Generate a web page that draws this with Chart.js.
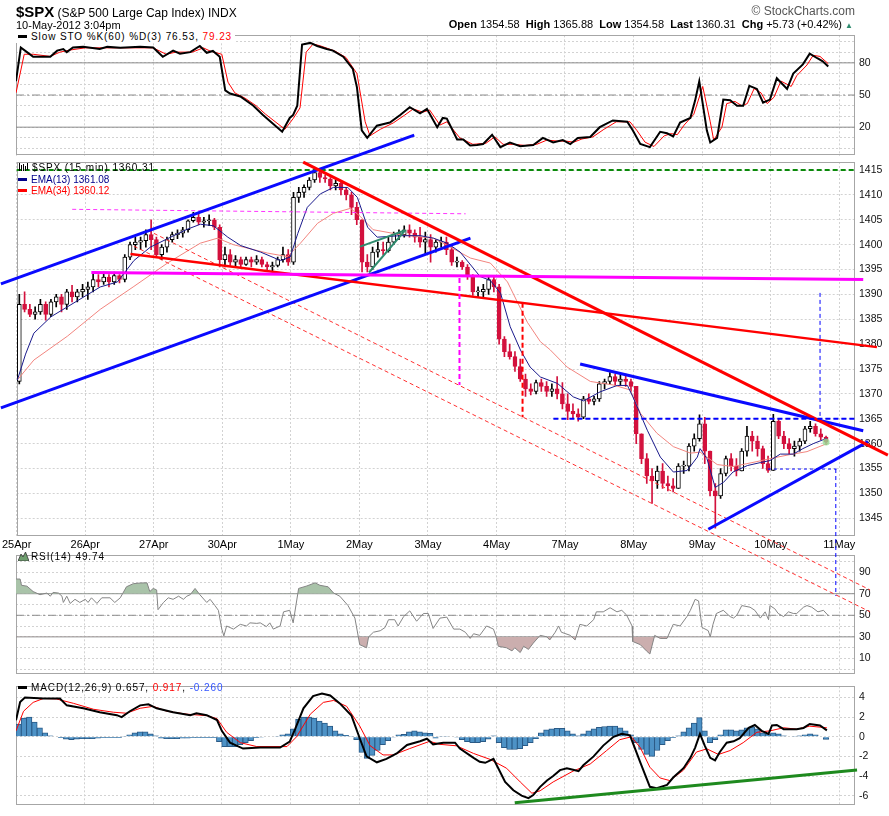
<!DOCTYPE html>
<html>
<head>
<meta charset="utf-8">
<title>$SPX 15 min</title>
<script src="https://cdn.jsdelivr.net/npm/chart.js@4.4.1/dist/chart.umd.min.js"></script>
<style>
  html, body { margin: 0; padding: 0; overflow: hidden; background: #fff; }
  body { width: 889px; height: 816px; position: relative; font-family: "Liberation Sans", Arial, sans-serif; }
  canvas { position: absolute; left: 0; }
  .txt { position: absolute; white-space: nowrap; font-size: 11px; line-height: 13px; color: #000; z-index: 5; }
  .leg { letter-spacing: 0.9px; font-size: 10px; line-height: 12px; }
  .dash { display: inline-block; width: 9px; height: 3px; vertical-align: middle; margin: 0 4px 2px 2px; }
</style>
</head>
<body>
<canvas id="sto" width="889" height="141" style="top:25px"></canvas>
<canvas id="rsi" width="889" height="140" style="top:545px"></canvas>
<canvas id="macd" width="889" height="140" style="top:676px"></canvas>
<canvas id="price" width="889" height="690" style="top:0;z-index:2"></canvas>

<div class="txt" style="left:16px;top:3px;line-height:18px"><b style="font-size:15px">$SPX</b> <span style="font-size:12px">(S&amp;P 500 Large Cap Index) INDX</span></div>
<div class="txt" style="left:16px;top:19px">10-May-2012 3:04pm</div>
<div class="txt" style="right:34px;top:5px;color:#555;font-size:12px">&copy; StockCharts.com</div>
<div class="txt" style="right:36px;top:18px"><b>Open</b> 1354.58&nbsp; <b>High</b> 1365.88&nbsp; <b>Low</b> 1354.58&nbsp; <b>Last</b> 1360.31&nbsp; <b>Chg</b> +5.73 (+0.42%) <span style="color:#2e8b6e;font-size:8px">&#9650;</span></div>

<div class="txt leg" style="left:16px;top:31px;background:#fff;padding-right:3px"><span class="dash" style="background:#000"></span>Slow STO %K(60) %D(3) 76.53, <span style="color:#f00">79.23</span></div>

<div class="txt leg" style="left:16px;top:162px"><svg width="11" height="10" style="vertical-align:middle;margin:0 3px 2px 2px"><path d="M1.5 1v8M3.5 3v6M5.5 2v7M7.5 4v5M9.5 1v7" stroke="#000" stroke-width="1"/></svg>$SPX (15 min) 1360.31</div>
<div class="txt" style="left:16px;top:174px;font-size:10px;line-height:12px;color:#00008b"><span class="dash" style="background:#00008b"></span>EMA(13) 1361.08</div>
<div class="txt" style="left:16px;top:185px;font-size:10px;line-height:12px;color:#f00"><span class="dash" style="background:#f00"></span>EMA(34) 1360.12</div>

<div class="txt leg" style="left:16px;top:551px"><svg width="11" height="10" style="vertical-align:middle;margin:0 2px 2px 2px"><path d="M0 10 L3 3 L5 6 L7.5 1 L11 10 Z" fill="#6f9f6f" stroke="#333" stroke-width="0.8"/></svg>RSI(14) 49.74</div>

<div class="txt leg" style="left:16px;top:682px"><span class="dash" style="background:#000"></span>MACD(12,26,9) 0.657, <span style="color:#f00">0.917</span>, <span style="color:#3355ff">-0.260</span></div>

<script>
// ---- x axis: trading days, 13 half-hour bars per day ----
const dayLabels = ['25Apr', '26Apr', '27Apr', '30Apr', '1May', '2May', '3May', '4May', '7May', '8May', '9May', '10May', '11May'];
const barsPerDay = 13;
const xMax = 12.23;

// ---- price candles (30 min) ----
const opens = [
  1372.5, 1388, 1387, 1386, 1386.5, 1388, 1386, 1388.5, 1389.5, 1388, 1390.5, 1389.5, 1390.5,
  1391, 1391.5, 1393, 1392.5, 1393.5, 1392.5, 1393.8, 1393, 1397.5, 1400, 1400.5, 1400.8, 1402,
  1401, 1398, 1399.5, 1401, 1402, 1402.3, 1403, 1404.8, 1405.5, 1404.5, 1404.8, 1405, 1403.5,
  1397, 1398, 1396.5, 1397, 1396, 1397, 1396.5, 1397, 1396, 1395.5, 1395.8, 1397, 1398,
  1396.5, 1409.5, 1410.5, 1411.5, 1413, 1414.5, 1413.5, 1413.2, 1411.8, 1412.3, 1411, 1410, 1407.5,
  1405, 1396.5, 1395.5, 1398.5, 1399, 1398.8, 1400.5, 1402, 1402, 1403, 1402.3, 1401.5, 1400.5,
  1401, 1399.5, 1400.5, 1400.5, 1399, 1396.5, 1396.5, 1395.5, 1393.8, 1390.5, 1390.5, 1391, 1393,
  1391.5, 1381, 1378.5, 1377.5, 1375.5, 1373, 1371, 1370.5, 1372.3, 1371.5, 1370.5, 1371, 1370,
  1368, 1366.5, 1366, 1365.3, 1369, 1368.5, 1369, 1372, 1372.5, 1373.5, 1372.5, 1373, 1372.5,
  1371.5, 1362, 1357, 1353.5, 1352.5, 1354.5, 1352, 1351.5, 1351, 1355.5, 1355.5, 1359.5, 1361,
  1364, 1358.5, 1350.5, 1349.5, 1354, 1357, 1355.5, 1354.5, 1358.5, 1361.5, 1360.5, 1359, 1356,
  1354.6, 1364.5, 1361.5, 1360, 1359, 1359.5, 1360.5, 1363, 1363.5, 1362, 1361.3
];
const highs = [
  1390, 1390.5, 1388, 1387.5, 1389, 1388.5, 1389, 1390, 1390, 1391, 1391.8, 1391, 1392,
  1392.5, 1394.5, 1394, 1394.5, 1394, 1394.5, 1394, 1398, 1400.5, 1401.5, 1401.5, 1403, 1405,
  1401.5, 1400, 1401.5, 1402.5, 1403, 1403.5, 1405, 1406.5, 1406.3, 1405.5, 1406, 1405.3, 1404,
  1399.5, 1399, 1397.8, 1397.5, 1397.5, 1397.5, 1397.8, 1397.5, 1396.5, 1396.5, 1397.5, 1399.5, 1399,
  1410.5, 1411.5, 1412, 1413.5, 1415.5, 1415.3, 1414, 1413.5, 1413, 1412.5, 1411.5, 1410.5, 1408.5,
  1405, 1398, 1399.5, 1400.5, 1400.5, 1401.5, 1402.5, 1403, 1403.8, 1404, 1403, 1403.5, 1402.5,
  1402, 1401, 1401.5, 1401.5, 1399.5, 1397.5, 1396.8, 1396, 1394, 1391.5, 1392, 1393.5, 1393.5,
  1392, 1381.5, 1380, 1378.5, 1377, 1374, 1372, 1372.8, 1373, 1372.5, 1372, 1373.5, 1372.3,
  1370, 1368, 1367, 1369.5, 1370, 1369.5, 1372.5, 1373, 1374.3, 1374, 1373.8, 1374, 1373,
  1371.5, 1362, 1358, 1355, 1355.5, 1356, 1353.5, 1353, 1356, 1356.5, 1360, 1362, 1365.8,
  1365.3, 1358.5, 1352, 1355, 1357.5, 1358, 1357, 1359, 1363.5, 1362.5, 1361.5, 1359.5, 1357.5,
  1365.9, 1365, 1362.5, 1361, 1360.5, 1361, 1363.5, 1364.5, 1364, 1363, 1361.5
];
const lows = [
  1372, 1386.5, 1385.5, 1385, 1386, 1384.8, 1385.5, 1387.5, 1386.5, 1387, 1388.5, 1388.5, 1389.5,
  1389, 1390.5, 1391.5, 1392, 1391.5, 1392, 1392.3, 1392.5, 1397, 1399, 1399, 1399.5, 1399,
  1397.5, 1397, 1398.5, 1400.5, 1401.2, 1401.5, 1402.5, 1404.5, 1404, 1403.5, 1403.8, 1403, 1395.5,
  1395.5, 1395.8, 1395.5, 1395.5, 1395.8, 1395.5, 1396, 1395.5, 1394.8, 1394.5, 1395.5, 1396.5, 1395.8,
  1396, 1408.5, 1409.5, 1411, 1412.5, 1412.5, 1412.5, 1411, 1411, 1410, 1409, 1406, 1404,
  1394.5, 1394.5, 1395, 1397.5, 1398, 1398.5, 1400, 1401, 1401.5, 1401.5, 1400.5, 1399.5, 1398,
  1396.5, 1398.5, 1399.5, 1398, 1395.8, 1395.5, 1395, 1393, 1389.8, 1389.5, 1389.5, 1390, 1390.5,
  1380, 1377.5, 1377, 1374.5, 1372.5, 1369.5, 1369.8, 1370, 1370.5, 1369.5, 1369.5, 1369, 1367,
  1364.8, 1365, 1364.5, 1365, 1368, 1367.8, 1368.5, 1371, 1372, 1371.8, 1371.8, 1371.5, 1370.5,
  1360, 1356, 1352, 1348, 1351, 1351, 1350.5, 1350.3, 1351, 1354, 1354.5, 1358.5, 1360.5,
  1356, 1349.5, 1343, 1349, 1353.5, 1354.5, 1353.5, 1354.5, 1357.5, 1358.5, 1357.5, 1355, 1354.2,
  1354.6, 1361, 1359, 1358, 1357.5, 1358.5, 1360, 1362.3, 1361.5, 1360.8, 1359.8
];
const closes = [
  1388, 1387, 1386, 1386.5, 1388, 1386, 1388.5, 1389.5, 1388, 1390.5, 1389.5, 1390.5, 1391,
  1391.5, 1393, 1392.5, 1393.5, 1392.5, 1393.8, 1393, 1397.5, 1400, 1400.5, 1400.8, 1402, 1401,
  1398, 1399.5, 1401, 1402, 1402.3, 1403, 1404.8, 1405.5, 1404.5, 1404.8, 1405, 1403.5, 1397,
  1398, 1396.5, 1397, 1396, 1397, 1396.5, 1397, 1396, 1395.5, 1395.8, 1397, 1398, 1396.5,
  1409.5, 1410.5, 1411.5, 1413, 1414.5, 1413.5, 1413.2, 1411.8, 1412.3, 1411, 1410, 1407.5, 1405,
  1396.5, 1395.5, 1398.5, 1399, 1398.8, 1400.5, 1402, 1402, 1403, 1402.3, 1401.5, 1400.5, 1401,
  1399.5, 1400.5, 1400.5, 1399, 1396.5, 1396.5, 1395.5, 1393.8, 1390.5, 1390.5, 1391, 1393, 1391.5,
  1381, 1378.5, 1377.5, 1375.5, 1373, 1371, 1370.5, 1372.3, 1371.5, 1370.5, 1371, 1370, 1368,
  1366.5, 1366, 1365.3, 1369, 1368.5, 1369, 1372, 1372.5, 1373.5, 1372.5, 1373, 1372.5, 1371.5,
  1362, 1357, 1353.5, 1352.5, 1354.5, 1352, 1351.5, 1351, 1355.5, 1355.5, 1359.5, 1361, 1364,
  1358.5, 1350.5, 1349.5, 1354, 1357, 1355.5, 1354.5, 1358.5, 1361.5, 1360.5, 1359, 1356, 1354.6,
  1364.5, 1361.5, 1360, 1359, 1359.5, 1360.5, 1363, 1363.5, 1362, 1361.3, 1360.31
];
const priceTicks = [1345, 1350, 1355, 1360, 1365, 1370, 1375, 1380, 1385, 1390, 1395, 1400, 1405, 1410, 1415];

// ---- moving averages (x in trading days) ----
const ema13X = [0.01, 0.13, 0.25, 0.50, 0.74, 0.98, 1.22, 1.47, 1.71, 1.95, 2.29, 2.49, 2.68, 2.87, 3.08, 3.27, 3.56, 3.85, 3.99, 4.10, 4.24, 4.43, 4.62, 4.83, 4.97, 5.12, 5.26, 5.60, 5.89, 6.08, 6.28, 6.47, 6.76, 6.91, 7.06, 7.20, 7.35, 7.49, 7.64, 7.89, 8.12, 8.27, 8.51, 8.76, 8.91, 8.99, 9.20, 9.39, 9.58, 9.78, 9.93, 9.97, 10.07, 10.19, 10.31, 10.45, 10.66, 10.85, 10.99, 11.14, 11.33, 11.47, 11.62, 11.82];
const ema13Y = [1372.8, 1378, 1382.2, 1385.5, 1387.5, 1389.5, 1391.5, 1392.5, 1396.8, 1399.5, 1401.8, 1403.1, 1404.1, 1403.8, 1401.5, 1399.8, 1398.5, 1396.8, 1397.5, 1402.2, 1407.5, 1410.2, 1411.5, 1411.5, 1409.5, 1403.5, 1401.5, 1401.8, 1401.8, 1401.3, 1400.3, 1398.5, 1393.6, 1392.8, 1390.2, 1383.5, 1378.8, 1375.4, 1373.4, 1372.1, 1369.4, 1368.6, 1370.4, 1371.7, 1371.7, 1369.4, 1362.7, 1357.3, 1354.3, 1354.6, 1357.3, 1359, 1357, 1351.2, 1352.2, 1354.3, 1355.6, 1356.2, 1356.6, 1357.9, 1357.9, 1359, 1360, 1361.08];
const ema34X = [0.01, 0.25, 0.74, 1.22, 1.71, 2.20, 2.68, 2.93, 3.16, 3.66, 3.95, 4.14, 4.39, 4.62, 4.87, 5.01, 5.20, 5.60, 6.08, 6.18, 6.62, 6.91, 7.16, 7.45, 7.64, 7.78, 8.03, 8.37, 8.70, 8.95, 9.10, 9.34, 9.58, 9.83, 9.97, 10.22, 10.45, 10.80, 11.03, 11.28, 11.53, 11.84];
const ema34Y = [1372.8, 1376.8, 1381.6, 1387, 1391.6, 1396.3, 1400.3, 1401.3, 1400, 1398.3, 1397.6, 1400.3, 1404.3, 1406.3, 1407.3, 1405.7, 1403, 1402, 1401.3, 1400.6, 1397.3, 1396.3, 1392.5, 1384.4, 1380.5, 1378.9, 1375.4, 1372.5, 1371.8, 1370.8, 1366.1, 1362.1, 1359.4, 1358.1, 1358.3, 1355.8, 1355.4, 1356.4, 1357.1, 1357.8, 1358.4, 1360.12];

// ---- hand drawn trend lines [day, price] ----
const blueChannelTop = [[-0.23, 1392.1], [5.80, 1422.0]];
const blueChannelBottom = [[-0.23, 1367.2], [6.62, 1401.3]];
const redFallLine = [[4.18, 1416.6], [12.71, 1357.7]];
const redSlopeLine = [[1.66, 1398.1], [12.55, 1379.4]];
const redChannelUpper = [[1.91, 1402.9], [12.45, 1330.6]];
const redChannelLower = [[1.71, 1399.7], [12.45, 1326.2]];
const magentaLevel = [[1.09, 1394.4], [12.35, 1393.0]];
const magentaTop = [[0.81, 1407.1], [6.55, 1406.2]];
const magentaDrop = [[6.46, 1393.3], [6.46, 1371.8]];
const redDrop = [[7.38, 1388.3], [7.38, 1365.3]];
const greenTop = [[0, 1415], [12.23, 1415]];
const blueResist = [[7.83, 1365.0], [12.23, 1365.0]];
const blueTriTop = [[8.22, 1376.0], [12.35, 1362.6]];
const blueTriBottom = [[10.09, 1342.8], [12.42, 1360.4]];
const blueSupport = [[10.96, 1354.9], [11.96, 1354.9]];
const blueTargetUp = [[11.72, 1390.3], [11.72, 1365.1]];
const blueTargetDown = [[11.95, 1354.9], [11.95, 1329.4]];
const greenWedgeTop = [[5.01, 1399.6], [5.67, 1402.9]];
const greenWedgeBottom = [[5.14, 1394.4], [5.67, 1402.9]];

// ---- slow stochastics ----
const stoKX = [0.00, 0.07, 0.16, 0.25, 0.50, 0.60, 0.69, 0.74, 0.83, 0.98, 1.22, 1.33, 1.52, 1.81, 2.00, 2.14, 2.29, 2.39, 2.54, 2.68, 2.78, 2.87, 2.97, 3.05, 3.12, 3.27, 3.46, 3.60, 3.88, 3.99, 4.04, 4.10, 4.17, 4.29, 4.39, 4.53, 4.62, 4.77, 4.91, 4.97, 5.04, 5.12, 5.26, 5.45, 5.60, 5.74, 5.89, 5.99, 6.14, 6.22, 6.28, 6.43, 6.52, 6.62, 6.72, 6.81, 6.94, 7.06, 7.20, 7.35, 7.54, 7.68, 7.83, 7.97, 8.08, 8.19, 8.37, 8.51, 8.70, 8.91, 8.99, 9.10, 9.24, 9.39, 9.49, 9.58, 9.68, 9.83, 9.90, 9.96, 10.07, 10.12, 10.22, 10.31, 10.41, 10.51, 10.60, 10.69, 10.80, 10.89, 10.99, 11.09, 11.24, 11.33, 11.47, 11.57, 11.68, 11.76, 11.84];
const stoK = [62.9, 94.3, 90, 85.7, 85.7, 91.4, 92.9, 90, 94.3, 94.9, 92.9, 94.9, 94, 95, 94.3, 85.7, 91.4, 88.6, 90, 95.7, 89.4, 91.1, 85.7, 54.3, 51.4, 48.6, 40, 31.4, 15.7, 28.6, 31.4, 40, 97.1, 98.6, 95.7, 92.9, 91.4, 85.7, 74.3, 57.1, 17.1, 10, 21.4, 24.3, 31.4, 38.6, 32.9, 37.1, 20, 28.6, 28, 8.6, 8.6, 2.9, 3.4, 4.3, 12.9, 1.4, 5.7, 2.3, 3.4, 10, 5.7, 8, 4.3, 10, 10.9, 20, 26.3, 25, 17.1, 4.3, 1.4, 15.7, 14.3, 11.4, 24.3, 28.6, 45, 62.9, 17.1, 5.7, 10, 45.7, 45.1, 40, 40, 58.6, 55.7, 42.9, 45.7, 65.7, 55.7, 70, 78.6, 88.6, 84.3, 81.4, 76.53];
const stoDX = [0.00, 0.12, 0.25, 0.50, 0.64, 0.79, 1.01, 1.30, 2.00, 2.19, 2.33, 2.57, 2.73, 2.83, 3.00, 3.09, 3.19, 3.34, 3.50, 3.64, 3.92, 4.04, 4.14, 4.23, 4.33, 4.43, 4.65, 4.81, 4.97, 5.09, 5.16, 5.31, 5.50, 5.66, 5.79, 5.93, 6.03, 6.18, 6.28, 6.47, 6.66, 6.85, 6.98, 7.10, 7.24, 7.42, 7.59, 7.74, 7.89, 8.02, 8.13, 8.25, 8.41, 8.57, 8.75, 8.95, 9.05, 9.17, 9.30, 9.45, 9.55, 9.64, 9.74, 9.88, 10.01, 10.12, 10.17, 10.29, 10.36, 10.48, 10.58, 10.66, 10.76, 10.86, 10.95, 11.05, 11.15, 11.30, 11.38, 11.53, 11.62, 11.72, 11.84];
const stoD = [52, 88, 88, 86, 90, 92, 94, 94, 94, 88, 90, 90, 94, 91, 88, 62, 52, 47, 40, 32, 18, 28, 38, 90, 97.5, 96, 91, 85, 70, 25, 12, 18, 24, 31, 37, 34, 36, 22, 25, 10, 4, 5, 11, 4, 4, 3, 4, 8, 7, 7, 6, 9, 11, 18, 25, 25, 17, 6, 2, 12, 14, 13, 22, 32, 58, 25, 8, 20, 42, 44, 40, 42, 56, 52, 42, 48, 63, 58, 68, 78, 87, 86, 79.23];
const stoLabels = [80, 50, 20];

// ---- RSI(14) ----
const rsiX = [0.00, 0.06, 0.08, 0.16, 0.25, 0.35, 0.45, 0.50, 0.54, 0.62, 0.67, 0.69, 0.74, 0.79, 0.86, 0.93, 1.01, 1.05, 1.10, 1.18, 1.25, 1.37, 1.44, 1.52, 1.61, 1.71, 1.81, 1.91, 1.95, 2.00, 2.05, 2.07, 2.15, 2.22, 2.29, 2.37, 2.44, 2.49, 2.54, 2.61, 2.68, 2.78, 2.83, 2.90, 2.95, 3.00, 3.03, 3.07, 3.17, 3.27, 3.36, 3.41, 3.51, 3.56, 3.65, 3.70, 3.75, 3.85, 3.90, 3.99, 4.04, 4.12, 4.24, 4.36, 4.43, 4.55, 4.63, 4.72, 4.84, 4.94, 4.99, 5.01, 5.11, 5.14, 5.21, 5.31, 5.38, 5.43, 5.52, 5.57, 5.65, 5.74, 5.84, 5.94, 6.01, 6.08, 6.18, 6.28, 6.38, 6.47, 6.55, 6.62, 6.67, 6.76, 6.86, 6.96, 7.00, 7.03, 7.15, 7.23, 7.27, 7.35, 7.40, 7.47, 7.54, 7.64, 7.74, 7.78, 7.86, 7.91, 7.95, 8.08, 8.15, 8.22, 8.32, 8.42, 8.46, 8.56, 8.66, 8.76, 8.83, 8.90, 8.98, 8.99, 9.10, 9.19, 9.24, 9.31, 9.39, 9.49, 9.58, 9.68, 9.78, 9.83, 9.90, 9.95, 10.00, 10.09, 10.12, 10.16, 10.21, 10.31, 10.41, 10.46, 10.51, 10.58, 10.70, 10.77, 10.85, 10.92, 10.97, 10.99, 11.06, 11.11, 11.19, 11.26, 11.33, 11.38, 11.48, 11.53, 11.60, 11.69, 11.77, 11.84];
const rsiY = [83.6, 83.6, 77.8, 77, 72, 69.1, 70.6, 67.7, 71.2, 70.6, 67.7, 61.9, 67.7, 61, 64.8, 61.9, 64.8, 61.9, 66.2, 61, 66.2, 66.2, 61.9, 66.2, 76.4, 79.3, 79.9, 80.1, 72, 74.9, 73.5, 55.2, 61.9, 66.2, 64.8, 67.7, 64.8, 67.7, 69.1, 74.9, 69.1, 61.9, 64.8, 59, 54.6, 37.2, 30.9, 40.1, 37.2, 41.6, 40.1, 43, 42.5, 43, 39.5, 43, 37.2, 40.1, 53.2, 54.6, 43, 74.9, 77.2, 80.1, 77.8, 76.4, 70.6, 67.7, 59, 47.4, 30, 22.8, 19.9, 30, 34.3, 35.7, 38.7, 45.9, 45.9, 40.1, 48.8, 54.1, 44.5, 51.7, 51.7, 37.8, 47.4, 48.3, 37.2, 37.2, 34.3, 28.6, 32.9, 31.4, 40.1, 37.2, 30, 21.3, 19.9, 17, 19.9, 15.5, 21.3, 18.4, 24.2, 31.4, 30, 27.1, 34.3, 40.1, 34.3, 31.4, 27.1, 41.6, 40.1, 45.9, 53.2, 53.2, 57, 53.2, 54.6, 50.3, 40.1, 25.7, 22.8, 17, 14.1, 31.4, 28.6, 28.6, 41.6, 40.1, 48.8, 54.6, 64.8, 63.3, 38.7, 35.8, 30, 41.6, 51.7, 54.6, 48.8, 47.4, 50.3, 59, 57.5, 54.6, 47.4, 53.2, 45.9, 59, 56.1, 51.7, 48.8, 53.2, 51.7, 51.7, 57.5, 59, 57.5, 53.2, 54.6, 49.74];
const rsiLabels = [90, 70, 50, 30, 10];

// ---- MACD(12,26,9) ----
const macdX = [0.00, 0.06, 0.13, 0.40, 0.64, 0.74, 0.98, 1.22, 1.47, 1.54, 1.66, 1.81, 1.93, 2.05, 2.29, 2.54, 2.63, 2.78, 2.93, 3.00, 3.12, 3.31, 3.56, 3.85, 3.99, 4.07, 4.19, 4.33, 4.46, 4.58, 4.72, 4.89, 5.01, 5.11, 5.26, 5.40, 5.55, 5.70, 5.89, 5.99, 6.08, 6.23, 6.40, 6.47, 6.67, 6.76, 6.84, 6.96, 7.03, 7.13, 7.25, 7.37, 7.47, 7.54, 7.64, 7.74, 7.83, 7.93, 8.03, 8.12, 8.20, 8.27, 8.42, 8.56, 8.71, 8.83, 8.95, 9.00, 9.10, 9.24, 9.34, 9.49, 9.58, 9.73, 9.83, 9.90, 9.97, 10.04, 10.12, 10.19, 10.26, 10.36, 10.46, 10.55, 10.68, 10.77, 10.87, 10.97, 11.02, 11.09, 11.19, 11.38, 11.48, 11.57, 11.72, 11.82];
const macdLine = [1.69, 3.54, 4.0, 3.9, 3.9, 3.2, 2.9, 2.5, 2.2, 2.0, 2.6, 3.2, 3.3, 2.9, 2.5, 2.2, 2.4, 2.2, 1.7, 0.6, -0.6, -1.2, -1.1, -1.1, -0.5, 0.8, 2.9, 4.15, 4.4, 4.2, 3.4, 2.15, -0.15, -2.0, -2.6, -2.25, -1.7, -0.83, -0.46, -0.2, -0.77, -0.6, -0.6, -1.2, -2.15, -2.55, -2.65, -2.25, -3.2, -4.6, -5.45, -6.0, -6.25, -5.94, -5.1, -4.46, -4.0, -3.4, -3.2, -3.35, -3.5, -2.9, -2.0, -0.9, 0, 0.3, 0.15, -0.77, -2.6, -5.1, -5.25, -4.9, -4.15, -3.2, -2.15, -1.1, 0.3, -0.9, -2.15, -2.4, -1.55, -0.6, -0.46, -0.15, 0.9, 1.2, 0.6, 0.3, 1.15, 1.2, 0.77, 0.77, 0.9, 1.3, 1.15, 0.657];
const signalX = [0.00, 0.11, 0.25, 0.40, 0.59, 0.84, 1.13, 1.42, 1.61, 1.81, 2.00, 2.20, 2.49, 2.78, 2.93, 3.07, 3.27, 3.51, 3.95, 4.09, 4.29, 4.48, 4.63, 4.82, 5.01, 5.16, 5.35, 5.50, 5.74, 6.03, 6.18, 6.42, 6.67, 6.91, 7.15, 7.35, 7.52, 7.64, 7.83, 8.12, 8.37, 8.61, 8.80, 8.97, 9.10, 9.24, 9.39, 9.53, 9.73, 9.92, 10.07, 10.24, 10.41, 10.60, 10.80, 10.99, 11.19, 11.38, 11.57, 11.82];
const signalLine = [0.6, 2.6, 3.5, 3.9, 3.85, 3.4, 2.8, 2.5, 2.4, 2.9, 3.1, 2.6, 2.3, 2.15, 1.85, 0.46, -0.6, -1.0, -1.0, 0, 2.3, 3.5, 3.7, 3.1, 1.1, -0.9, -1.85, -1.85, -1.2, -0.46, -0.77, -0.92, -1.7, -2.3, -3.2, -4.6, -5.75, -5.5, -4.6, -3.5, -2.77, -1.4, -0.3, 0, -1.1, -3.1, -4.2, -4.46, -3.4, -1.55, -1.23, -1.8, -1.4, -0.6, 0.46, 0.6, 0.92, 0.77, 1.08, 0.917];
const macdHist = [
  1.3, 1.9, 2.0, 1.5, 0.9, 0.4, 0.1, 0, -0.1, -0.25, -0.3, -0.25, -0.2,
  -0.2, -0.2, -0.15, -0.1, -0.1, -0.1, -0.1, 0.05, 0.2, 0.4, 0.5, 0.5, 0.3,
  0.1, -0.15, -0.2, -0.2, -0.2, -0.15, -0.15, -0.1, -0.1, -0.1, -0.1, -0.1, -0.5,
  -1.0, -1.0, -1.0, -0.8, -0.6, -0.4, -0.1, -0.05, 0, 0, 0.05, 0.2, 0.3,
  0.8, 1.8, 2.0, 2.0, 1.9, 1.6, 1.4, 1.1, 0.6, 0.3, 0.15, 0.05, -0.3,
  -1.6, -2.2, -1.9, -1.4, -0.8, -0.4, -0.05, 0.2, 0.25, 0.5, 0.6, 0.5, 0.4,
  0.35, -0.15, 0.05, 0.05, 0, -0.05, -0.3, -0.5, -0.6, -0.6, -0.5, -0.25, 0.1,
  -0.6, -1.1, -1.3, -1.3, -1.2, -0.9, -0.6, -0.2, 0.4, 0.7, 0.8, 0.85, 0.85,
  0.6, 0.3, 0.1, 0.3, 0.6, 0.8, 0.95, 1.05, 1.1, 1.1, 0.9, 0.6, 0.2,
  -0.6, -1.3, -1.8, -2.0, -1.4, -0.8, -0.4, -0.1, 0.1, 0.5, 0.9, 1.4, 1.95,
  0.6, -0.6, -0.3, 0.2, 0.7, 0.7, 0.6, 0.7, 0.9, 1.0, 0.8, 0.4, 0.3,
  0.4, 0.3, 0.1, 0, 0.05, 0.1, 0.2, 0.3, 0.2, 0, -0.26
];
const macdTrend = [[7.27, -6.71], [12.26, -3.38]];
const macdLabels = [4, 2, 0, -2, -4, -6];

// ---------------------------------------------------------------
Chart.defaults.font.family = "'Liberation Sans', Arial, sans-serif";
Chart.defaults.color = '#111';

const RED = '#d3113d';
const candleX = closes.map((c, i) => (i + 0.5) / barsPerDay);
const isUp = i => closes[i] >= opens[i];
const pts = (xs, ys) => xs.map((x, i) => ({ x, y: ys[i] }));
const seg = pair => pair.map(([x, y]) => ({ x, y }));

function lineDs(data, color, width, dash, order, clip) {
  return { type: 'line', data, borderColor: color, borderWidth: width, borderDash: dash || [],
    pointRadius: 0, fill: false, tension: 0, order: order, clip: clip === undefined ? false : clip };
}
function levelDs(v, dash) {
  return lineDs([{ x: 0, y: v }, { x: xMax, y: v }], '#8c8c8c', 1, dash, 30, 0);
}

function xAxis(showLabels) {
  return {
    type: 'linear', min: 0, max: xMax, offset: false,
    grid: { color: '#d2d2d2', drawTicks: false, offset: false },
    border: { display: false, dash: [2, 2] },
    ticks: { display: showLabels, stepSize: 1, autoSkip: false, maxRotation: 0, minRotation: 0,
      includeBounds: false, padding: 2, font: { size: 11 }, color: '#000',
      callback: v => dayLabels[v] ?? '' },
    afterFit: s => { s.height = showLabels ? 14 : 0; }
  };
}
function yAxis(min, max, step, labels) {
  return {
    position: 'right', min, max,
    grid: { color: '#d2d2d2', drawTicks: false },
    border: { display: false, dash: [2, 2] },
    ticks: { stepSize: step, autoSkip: false, includeBounds: false, padding: 4, font: { size: 10.5 }, color: '#111',
      callback: v => labels.includes(v) ? String(v) : '' },
    afterFit: s => { s.width = 34; }
  };
}

const frame = {
  id: 'frame',
  beforeDatasetsDraw(chart) {
    const { ctx, chartArea: a } = chart;
    ctx.save();
    ctx.strokeStyle = '#a6a6a6';
    ctx.lineWidth = 1;
    ctx.strokeRect(Math.round(a.left) + 0.5, Math.round(a.top) + 0.5,
      Math.round(a.right - a.left) - 1, Math.round(a.bottom - a.top) - 1);
    ctx.restore();
  }
};

function baseOptions(padding, x, y) {
  return {
    responsive: false, animation: false, events: [],
    layout: { padding },
    plugins: { legend: { display: false }, tooltip: { enabled: false } },
    scales: { x, y }
  };
}

// ---- price panel ----
new Chart(document.getElementById('price'), {
  type: 'line',
  data: {
    datasets: [
      { type: 'bar', grouped: false, order: 12, barThickness: 1,
        data: closes.map((c, i) => ({ x: candleX[i], y: [lows[i], highs[i]] })),
        backgroundColor: c => isUp(c.dataIndex) ? '#000' : RED },
      { type: 'bar', grouped: false, order: 11, barThickness: 4, minBarLength: 1, borderSkipped: false, borderWidth: 1,
        data: closes.map((c, i) => ({ x: candleX[i], y: [opens[i], closes[i]] })),
        backgroundColor: c => isUp(c.dataIndex) ? '#fff' : RED,
        borderColor: c => isUp(c.dataIndex) ? '#000' : RED },
      lineDs(pts(ema34X, ema34Y), '#f2857f', 1, [], 7, 0),
      lineDs(pts(ema13X, ema13Y), '#1a1a8c', 1, [], 6, 0),
      lineDs(seg(greenTop), '#0a8a0a', 2, [5, 3], 3),
      lineDs(seg(magentaTop), '#ff33ff', 1, [4, 3], 3),
      lineDs(seg(redChannelUpper), '#ff3030', 1, [4, 3], 3),
      lineDs(seg(redChannelLower), '#ff3030', 1, [4, 3], 3),
      lineDs(seg(magentaLevel), '#ff00ff', 3, [], 2),
      lineDs(seg(redSlopeLine), '#ff0000', 2.5, [], 2),
      lineDs(seg(redFallLine), '#ff0000', 3, [], 2),
      lineDs(seg(blueChannelTop), '#0a0aff', 3, [], 2),
      lineDs(seg(blueChannelBottom), '#0a0aff', 3, [], 2),
      lineDs(seg(blueTriTop), '#0a0aff', 3, [], 2),
      lineDs(seg(blueTriBottom), '#0a0aff', 3, [], 2),
      lineDs(seg(greenWedgeTop), '#2e8b6e', 2, [], 2),
      lineDs(seg(greenWedgeBottom), '#2e8b6e', 2, [], 2),
      lineDs(seg(magentaDrop), '#ff00ff', 2, [5, 3], 1),
      lineDs(seg(redDrop), '#ff0000', 2, [5, 3], 1),
      lineDs(seg(blueResist), '#0000ff', 2, [5, 3], 1),
      lineDs(seg(blueSupport), '#0000ff', 1, [3, 3], 1),
      lineDs(seg(blueTargetUp), '#0000ff', 1, [4, 3], 1),
      lineDs(seg(blueTargetDown), '#0000ff', 1, [4, 3], 1),
      { type: 'line', order: 0, showLine: false, data: [{ x: candleX[closes.length - 1], y: closes[closes.length - 1] }],
        pointRadius: 3.5, pointBackgroundColor: 'rgba(150,220,150,0.8)', pointBorderWidth: 0 }
    ]
  },
  options: baseOptions({ top: 162, left: 16, right: 0, bottom: 140 },
    xAxis(true), yAxis(1341.44, 1416.61, 5, priceTicks)),
  plugins: [frame]
});

// ---- slow stochastics panel ----
new Chart(document.getElementById('sto'), {
  type: 'line',
  data: {
    datasets: [
      levelDs(80, []), levelDs(50, [8, 3, 2, 3]), levelDs(20, []),
      lineDs(pts(stoDX, stoD), '#ff0000', 1, [], 2, 0),
      lineDs(pts(stoKX, stoK), '#000', 2, [], 1, 0)
    ]
  },
  options: baseOptions({ top: 5, left: 16, right: 0, bottom: 5 },
    xAxis(false), yAxis(-6.6, 105.7, 10, stoLabels)),
  plugins: [frame]
});

// ---- RSI panel ----
const rsiData = pts(rsiX, rsiY);
new Chart(document.getElementById('rsi'), {
  type: 'line',
  data: {
    datasets: [
      levelDs(70, []), levelDs(50, [8, 3, 2, 3]), levelDs(30, []),
      { type: 'line', data: rsiData, order: 4, borderWidth: 0, pointRadius: 0,
        fill: { target: { value: 70 }, above: '#a9c3a9', below: 'rgba(0,0,0,0)' } },
      { type: 'line', data: rsiData, order: 3, borderWidth: 0, pointRadius: 0,
        fill: { target: { value: 30 }, above: 'rgba(0,0,0,0)', below: '#cbaeae' } },
      lineDs(rsiData, '#858585', 1, [], 1, 0)
    ]
  },
  options: baseOptions({ top: 5, left: 16, right: 0, bottom: 5 },
    xAxis(false), yAxis(-5.06, 105.6, 10, rsiLabels)),
  plugins: [frame]
});

// ---- MACD panel ----
new Chart(document.getElementById('macd'), {
  type: 'line',
  data: {
    datasets: [
      { type: 'bar', grouped: false, order: 4, barThickness: 5.5, borderWidth: 1,
        data: macdHist.map((v, i) => ({ x: candleX[i], y: v })),
        backgroundColor: '#4d92c6', borderColor: '#2a5a86' },
      lineDs(pts(signalX, signalLine), '#ff0000', 1, [], 2, 0),
      lineDs(pts(macdX, macdLine), '#000', 2, [], 1, 0),
      lineDs(seg(macdTrend), '#1e8a1e', 3, [], 0)
    ]
  },
  options: baseOptions({ top: 5, left: 16, right: 0, bottom: 4 },
    xAxis(false), yAxis(-7.02, 5.14, 2, macdLabels)),
  plugins: [frame]
});
</script>
</body>
</html>
